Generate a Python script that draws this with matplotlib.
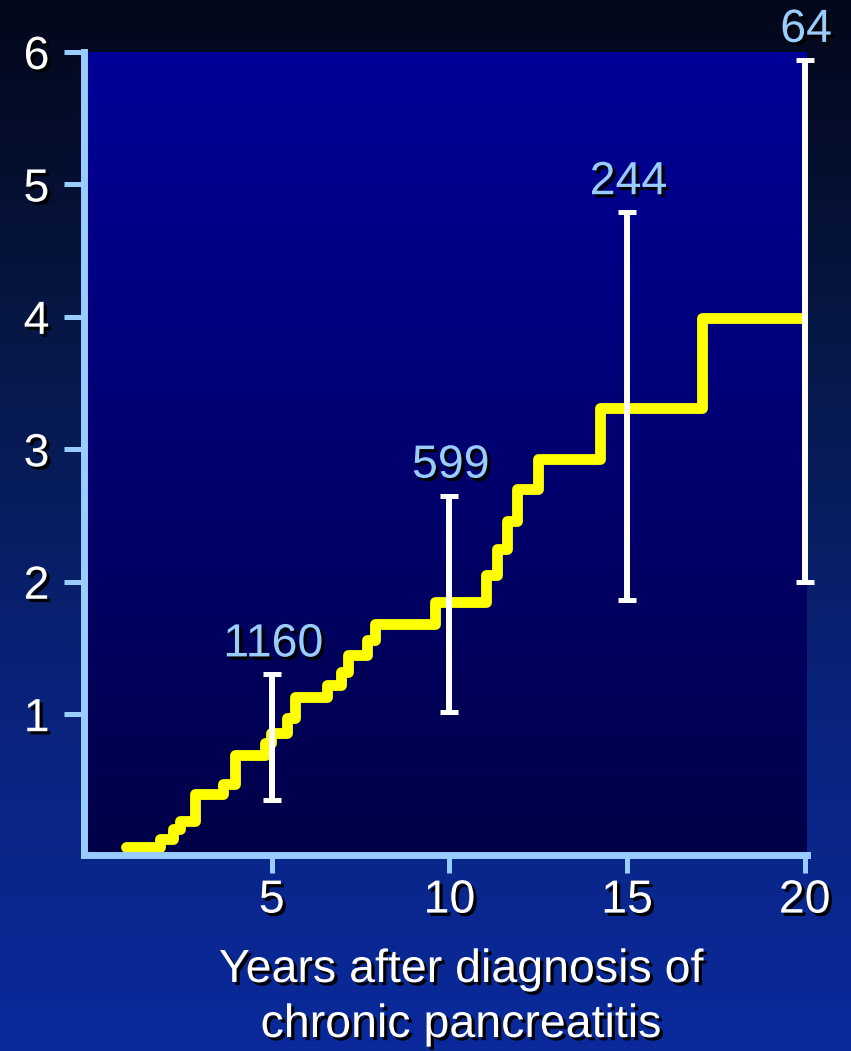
import matplotlib
matplotlib.use("Agg")
import matplotlib.pyplot as plt
import matplotlib.patheffects as pe
from matplotlib.colors import LinearSegmentedColormap
import numpy as np

# ---------------- data ----------------
step_years = [0.89, 1.85, 2.22, 2.41, 2.83, 3.63, 3.96, 4.80, 4.99, 5.42, 5.65,
              6.54, 6.96, 7.15, 7.67, 7.90, 9.59, 11.04, 11.33, 11.61, 11.89,
              12.49, 14.23, 17.10, 20.0]
cum_risk = [0.0, 0.06, 0.13, 0.19, 0.40, 0.47, 0.69, 0.78, 0.86, 0.97, 1.13,
            1.22, 1.32, 1.45, 1.56, 1.68, 1.85, 2.05, 2.25, 2.46, 2.70,
            2.93, 3.31, 3.99, 3.99]

ci_years = [5, 10, 15, 20]
ci_lower = [0.35, 1.02, 1.86, 2.00]
ci_upper = [1.30, 2.65, 4.79, 5.94]
at_risk = ["1160", "599", "244", "64"]

x_ticks = [5, 10, 15, 20]
y_ticks = [1, 2, 3, 4, 5, 6]
xlabel_lines = ["Years after diagnosis of", "chronic pancreatitis"]

# ---------------- style ----------------
W, H = 851, 1051
plt.rcParams['font.family'] = ['Liberation Sans', 'DejaVu Sans']
FS = 33.5
shadow = [pe.withSimplePatchShadow(offset=(2.3, -2.3), shadow_rgbFace='black', alpha=1.0)]
spine_col = '#99ccff'

fig = plt.figure(figsize=(W / 100, H / 100), dpi=100)

# figure background gradient
bg = fig.add_axes([0, 0, 1, 1], zorder=-10)
bg.axis('off')
bg_cmap = LinearSegmentedColormap.from_list(
    'bg', ['#03071a', '#071848', '#09237c', '#0a2a9c'])
grad = np.linspace(0, 1, 256).reshape(-1, 1)
bg.imshow(grad, cmap=bg_cmap, aspect='auto', extent=[0, 1, 0, 1], origin='upper')
bg.set_xlim(0, 1)
bg.set_ylim(0, 1)

# main axes
left, right, top, bottom = 83.5, 806.5, 52, 855
ax = fig.add_axes([left / W, (H - bottom) / H, (right - left) / W, (bottom - top) / H])
xlim = (-0.3, 20.05)
ylim = (-0.063, 6.0)
ax.set_xlim(*xlim)
ax.set_ylim(*ylim)
ax.set_facecolor('none')

ax_cmap = LinearSegmentedColormap.from_list('ax', ['#000099', '#000048'])
ax.imshow(grad, cmap=ax_cmap, aspect='auto',
          extent=[xlim[0], xlim[1], ylim[0], ylim[1]], origin='upper', zorder=0)
ax.set_xlim(*xlim)
ax.set_ylim(*ylim)

# step line
ax.step(step_years, cum_risk, where='post', color='#ffff00', lw=7.8,
        solid_joinstyle='round', solid_capstyle='round', zorder=3)

# error bars
mid = [(lo + hi) / 2 for lo, hi in zip(ci_lower, ci_upper)]
err = [(hi - lo) / 2 for lo, hi in zip(ci_lower, ci_upper)]
eb = ax.errorbar(ci_years, mid, yerr=err, fmt='none', ecolor='white',
                 elinewidth=4.3, capsize=6.5, capthick=3.6, zorder=4)
for art in eb.lines[1]:
    art.set_clip_on(False)
for art in eb.lines[2]:
    art.set_clip_on(False)

# at-risk numbers
for xv, hi, lab in zip(ci_years, ci_upper, at_risk):
    ax.annotate(lab, (xv, hi), xytext=(1, 13), textcoords='offset points',
                ha='center', va='baseline', fontsize=FS, color='#99ccff',
                path_effects=shadow, annotation_clip=False, zorder=5)

# spines & ticks
for s in ['top', 'right']:
    ax.spines[s].set_visible(False)
for s in ['left', 'bottom']:
    ax.spines[s].set_color(spine_col)
    ax.spines[s].set_linewidth(5)
    ax.spines[s].set_capstyle('projecting')
    ax.spines[s].set_zorder(6)

ax.set_xticks(x_ticks)
ax.set_yticks(y_ticks)
ax.set_xticklabels([str(v) for v in x_ticks])
ax.set_yticklabels([str(v) for v in y_ticks])
ax.tick_params(axis='y', direction='out', length=14.5, width=3.6, color=spine_col,
               labelcolor='white', labelsize=FS, pad=10)
ax.tick_params(axis='x', direction='out', length=13, width=3.6, color=spine_col,
               labelcolor='white', labelsize=FS, pad=4)
for t in ax.get_xticklabels() + ax.get_yticklabels():
    t.set_path_effects(shadow)

# x label (two lines)
fig.text(461 / W, 1 - 982 / H, xlabel_lines[0], ha='center', va='baseline',
         fontsize=FS, color='white', path_effects=shadow)
fig.text(461 / W, 1 - 1037 / H, xlabel_lines[1], ha='center', va='baseline',
         fontsize=FS, color='white', path_effects=shadow)

fig.savefig('out.png', dpi=100)
